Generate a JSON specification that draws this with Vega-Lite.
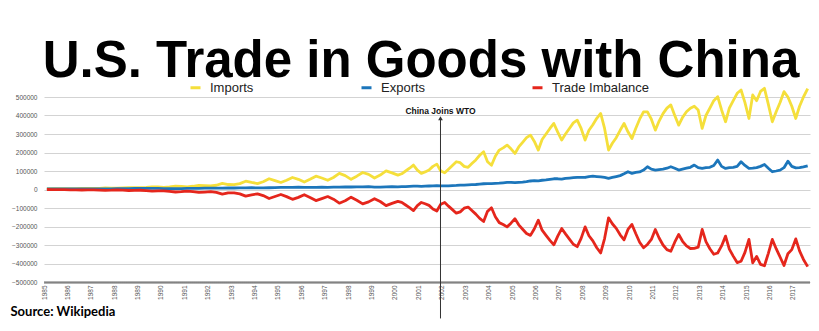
{
  "$schema": "https://vega.github.io/schema/vega-lite/v6.json",
  "width": 766,
  "height": 185,
  "autosize": {"type": "none"},
  "padding": {"left": 44, "top": 97, "right": 9, "bottom": 49},
  "background": "white",
  "title": {"text": "U.S. Trade in Goods with China", "font": "Liberation Sans", "fontSize": 51, "fontWeight": "bold", "color": "#000000", "anchor": "middle", "frame": "group", "baseline": "alphabetic", "offset": 4, "dx": -6, "dy": 51},
  "config": {"view": {"stroke": null}, "font": "Liberation Sans"},
  "encoding": {
    "x": {"field": "d", "type": "temporal",
      "scale": {"domain": [{"year": 1985, "month": 1, "date": 1}, {"year": 2017, "month": 9, "date": 25}]},
      "axis": {"title": "Source: Wikipedia", "titleFont": "Lato", "titleFontSize": 13, "titleFontWeight": "bold", "titleColor": "#000000", "titleAnchor": "start", "titleAlign": "left", "titleX": -34, "titleY": 33, "titleBaseline": "alphabetic",
        "format": "%Y", "labelAngle": -90, "labelFontSize": 6.5, "labelColor": "#555555", "labelPadding": 3, "ticks": false, "grid": false, "domainColor": "#333333", "domainWidth": 2.5, "domainDash": [1, 1], "tickCount": {"interval": "year", "step": 1}, "labelOverlap": false, "labelFlush": false}},
    "y": {"field": "value", "type": "quantitative",
      "scale": {"domain": [-500000, 500000], "nice": false},
      "axis": {"title": null, "values": [-500000, -400000, -300000, -200000, -100000, 0, 100000, 200000, 300000, 400000, 500000], "format": "d", "labelFontSize": 6.5, "labelColor": "#555555", "ticks": false, "domain": false, "labelPadding": 7, "gridColor": "#d3d3d3", "gridWidth": 1}}
  },
  "layer": [
    {
      "data": {"values": [
        {"d":"1985-02-15","Imports":3500,"Exports":3500,"Trade Imbalance":0},
        {"d":"1985-05-15","Imports":4000,"Exports":3500,"Trade Imbalance":-500},
        {"d":"1985-08-15","Imports":4500,"Exports":3800,"Trade Imbalance":-700},
        {"d":"1985-11-15","Imports":4500,"Exports":3500,"Trade Imbalance":-1000},
        {"d":"1986-02-15","Imports":4500,"Exports":2800,"Trade Imbalance":-1700},
        {"d":"1986-05-15","Imports":5000,"Exports":3000,"Trade Imbalance":-2000},
        {"d":"1986-08-15","Imports":6000,"Exports":3200,"Trade Imbalance":-2800},
        {"d":"1986-11-15","Imports":5500,"Exports":3300,"Trade Imbalance":-2200},
        {"d":"1987-02-15","Imports":5500,"Exports":3200,"Trade Imbalance":-2300},
        {"d":"1987-05-15","Imports":6500,"Exports":3400,"Trade Imbalance":-3100},
        {"d":"1987-08-15","Imports":8000,"Exports":3600,"Trade Imbalance":-4400},
        {"d":"1987-11-15","Imports":7500,"Exports":3600,"Trade Imbalance":-3900},
        {"d":"1988-02-15","Imports":7000,"Exports":4500,"Trade Imbalance":-2500},
        {"d":"1988-05-15","Imports":8500,"Exports":5000,"Trade Imbalance":-3500},
        {"d":"1988-08-15","Imports":10500,"Exports":5200,"Trade Imbalance":-5300},
        {"d":"1988-11-15","Imports":10000,"Exports":5500,"Trade Imbalance":-4500},
        {"d":"1989-02-15","Imports":9500,"Exports":5500,"Trade Imbalance":-4000},
        {"d":"1989-05-15","Imports":11500,"Exports":5800,"Trade Imbalance":-5700},
        {"d":"1989-08-15","Imports":14500,"Exports":5800,"Trade Imbalance":-8700},
        {"d":"1989-11-15","Imports":13500,"Exports":6000,"Trade Imbalance":-7500},
        {"d":"1990-02-15","Imports":12000,"Exports":4500,"Trade Imbalance":-7500},
        {"d":"1990-05-15","Imports":14500,"Exports":4800,"Trade Imbalance":-9700},
        {"d":"1990-08-15","Imports":18500,"Exports":5000,"Trade Imbalance":-13500},
        {"d":"1990-11-15","Imports":17000,"Exports":5200,"Trade Imbalance":-11800},
        {"d":"1991-02-15","Imports":14500,"Exports":5800,"Trade Imbalance":-8700},
        {"d":"1991-05-15","Imports":17500,"Exports":6000,"Trade Imbalance":-11500},
        {"d":"1991-08-15","Imports":22000,"Exports":6500,"Trade Imbalance":-15500},
        {"d":"1991-11-15","Imports":21000,"Exports":7000,"Trade Imbalance":-14000},
        {"d":"1992-02-15","Imports":19000,"Exports":7000,"Trade Imbalance":-12000},
        {"d":"1992-05-15","Imports":23000,"Exports":7200,"Trade Imbalance":-15800},
        {"d":"1992-08-15","Imports":33000,"Exports":7800,"Trade Imbalance":-25200},
        {"d":"1992-11-15","Imports":27000,"Exports":8500,"Trade Imbalance":-18500},
        {"d":"1993-02-15","Imports":26000,"Exports":8000,"Trade Imbalance":-18000},
        {"d":"1993-05-15","Imports":32000,"Exports":8500,"Trade Imbalance":-23500},
        {"d":"1993-08-15","Imports":45000,"Exports":9000,"Trade Imbalance":-36000},
        {"d":"1993-11-15","Imports":38000,"Exports":9500,"Trade Imbalance":-28500},
        {"d":"1994-02-15","Imports":32000,"Exports":8500,"Trade Imbalance":-23500},
        {"d":"1994-05-15","Imports":42000,"Exports":9000,"Trade Imbalance":-33000},
        {"d":"1994-08-15","Imports":58000,"Exports":9500,"Trade Imbalance":-48500},
        {"d":"1994-11-15","Imports":48000,"Exports":10000,"Trade Imbalance":-38000},
        {"d":"1995-02-15","Imports":38000,"Exports":11000,"Trade Imbalance":-27000},
        {"d":"1995-05-15","Imports":50000,"Exports":11500,"Trade Imbalance":-38500},
        {"d":"1995-08-15","Imports":65000,"Exports":12000,"Trade Imbalance":-53000},
        {"d":"1995-11-15","Imports":55000,"Exports":12500,"Trade Imbalance":-42500},
        {"d":"1996-02-15","Imports":40000,"Exports":11500,"Trade Imbalance":-28500},
        {"d":"1996-05-15","Imports":55000,"Exports":12000,"Trade Imbalance":-43000},
        {"d":"1996-08-15","Imports":72000,"Exports":12000,"Trade Imbalance":-60000},
        {"d":"1996-11-15","Imports":62000,"Exports":13000,"Trade Imbalance":-49000},
        {"d":"1997-02-15","Imports":50000,"Exports":12000,"Trade Imbalance":-38000},
        {"d":"1997-05-15","Imports":65000,"Exports":12500,"Trade Imbalance":-52500},
        {"d":"1997-08-15","Imports":87000,"Exports":13000,"Trade Imbalance":-74000},
        {"d":"1997-11-15","Imports":75000,"Exports":14000,"Trade Imbalance":-61000},
        {"d":"1998-02-15","Imports":55000,"Exports":13500,"Trade Imbalance":-41500},
        {"d":"1998-05-15","Imports":72000,"Exports":14000,"Trade Imbalance":-58000},
        {"d":"1998-08-15","Imports":92000,"Exports":14500,"Trade Imbalance":-77500},
        {"d":"1998-11-15","Imports":82000,"Exports":15000,"Trade Imbalance":-67000},
        {"d":"1999-02-15","Imports":62000,"Exports":12500,"Trade Imbalance":-49500},
        {"d":"1999-05-15","Imports":78000,"Exports":13000,"Trade Imbalance":-65000},
        {"d":"1999-08-15","Imports":101000,"Exports":14000,"Trade Imbalance":-87000},
        {"d":"1999-11-15","Imports":90000,"Exports":15000,"Trade Imbalance":-75000},
        {"d":"2000-02-15","Imports":78000,"Exports":14000,"Trade Imbalance":-64000},
        {"d":"2000-04-15","Imports":85000,"Exports":15000,"Trade Imbalance":-70000},
        {"d":"2000-06-15","Imports":100000,"Exports":16000,"Trade Imbalance":-84000},
        {"d":"2000-08-15","Imports":115000,"Exports":17000,"Trade Imbalance":-98000},
        {"d":"2000-10-15","Imports":132000,"Exports":18000,"Trade Imbalance":-114000},
        {"d":"2000-12-15","Imports":105000,"Exports":18000,"Trade Imbalance":-87000},
        {"d":"2001-02-15","Imports":87000,"Exports":17000,"Trade Imbalance":-70000},
        {"d":"2001-04-15","Imports":95000,"Exports":18000,"Trade Imbalance":-77000},
        {"d":"2001-06-15","Imports":105000,"Exports":19000,"Trade Imbalance":-86000},
        {"d":"2001-08-15","Imports":125000,"Exports":20000,"Trade Imbalance":-105000},
        {"d":"2001-10-15","Imports":137000,"Exports":21000,"Trade Imbalance":-116000},
        {"d":"2001-12-15","Imports":100000,"Exports":20000,"Trade Imbalance":-80000},
        {"d":"2002-02-15","Imports":90000,"Exports":20000,"Trade Imbalance":-70000},
        {"d":"2002-04-15","Imports":110000,"Exports":20000,"Trade Imbalance":-90000},
        {"d":"2002-06-15","Imports":130000,"Exports":21000,"Trade Imbalance":-109000},
        {"d":"2002-08-15","Imports":150000,"Exports":22000,"Trade Imbalance":-128000},
        {"d":"2002-10-15","Imports":145000,"Exports":24000,"Trade Imbalance":-121000},
        {"d":"2002-12-15","Imports":125000,"Exports":24000,"Trade Imbalance":-101000},
        {"d":"2003-02-15","Imports":120000,"Exports":25000,"Trade Imbalance":-95000},
        {"d":"2003-04-15","Imports":140000,"Exports":26000,"Trade Imbalance":-114000},
        {"d":"2003-06-15","Imports":160000,"Exports":27000,"Trade Imbalance":-133000},
        {"d":"2003-08-15","Imports":185000,"Exports":29000,"Trade Imbalance":-156000},
        {"d":"2003-10-15","Imports":204000,"Exports":31000,"Trade Imbalance":-173000},
        {"d":"2003-12-15","Imports":150000,"Exports":32000,"Trade Imbalance":-118000},
        {"d":"2004-02-15","Imports":131000,"Exports":32000,"Trade Imbalance":-99000},
        {"d":"2004-04-15","Imports":180000,"Exports":33000,"Trade Imbalance":-147000},
        {"d":"2004-06-15","Imports":213000,"Exports":34000,"Trade Imbalance":-179000},
        {"d":"2004-08-15","Imports":225000,"Exports":36000,"Trade Imbalance":-189000},
        {"d":"2004-10-15","Imports":240000,"Exports":38000,"Trade Imbalance":-202000},
        {"d":"2004-12-15","Imports":220000,"Exports":38000,"Trade Imbalance":-182000},
        {"d":"2005-02-15","Imports":195000,"Exports":37000,"Trade Imbalance":-158000},
        {"d":"2005-04-15","Imports":230000,"Exports":39000,"Trade Imbalance":-191000},
        {"d":"2005-06-15","Imports":255000,"Exports":40000,"Trade Imbalance":-215000},
        {"d":"2005-08-15","Imports":280000,"Exports":42000,"Trade Imbalance":-238000},
        {"d":"2005-10-15","Imports":294000,"Exports":46000,"Trade Imbalance":-248000},
        {"d":"2005-12-15","Imports":260000,"Exports":48000,"Trade Imbalance":-212000},
        {"d":"2006-02-15","Imports":213000,"Exports":47000,"Trade Imbalance":-166000},
        {"d":"2006-04-15","Imports":270000,"Exports":50000,"Trade Imbalance":-220000},
        {"d":"2006-06-15","Imports":300000,"Exports":52000,"Trade Imbalance":-248000},
        {"d":"2006-08-15","Imports":330000,"Exports":55000,"Trade Imbalance":-275000},
        {"d":"2006-10-15","Imports":357000,"Exports":58000,"Trade Imbalance":-299000},
        {"d":"2006-12-15","Imports":310000,"Exports":58000,"Trade Imbalance":-252000},
        {"d":"2007-02-15","Imports":267000,"Exports":56000,"Trade Imbalance":-211000},
        {"d":"2007-04-15","Imports":300000,"Exports":60000,"Trade Imbalance":-240000},
        {"d":"2007-06-15","Imports":330000,"Exports":62000,"Trade Imbalance":-268000},
        {"d":"2007-08-15","Imports":360000,"Exports":64000,"Trade Imbalance":-296000},
        {"d":"2007-10-15","Imports":375000,"Exports":66000,"Trade Imbalance":-309000},
        {"d":"2007-12-15","Imports":330000,"Exports":66000,"Trade Imbalance":-264000},
        {"d":"2008-02-15","Imports":267000,"Exports":65000,"Trade Imbalance":-202000},
        {"d":"2008-04-15","Imports":320000,"Exports":70000,"Trade Imbalance":-250000},
        {"d":"2008-06-15","Imports":350000,"Exports":72000,"Trade Imbalance":-278000},
        {"d":"2008-08-15","Imports":385000,"Exports":70000,"Trade Imbalance":-315000},
        {"d":"2008-10-15","Imports":411000,"Exports":68000,"Trade Imbalance":-343000},
        {"d":"2008-12-15","Imports":330000,"Exports":65000,"Trade Imbalance":-265000},
        {"d":"2009-02-15","Imports":213000,"Exports":60000,"Trade Imbalance":-153000},
        {"d":"2009-04-15","Imports":250000,"Exports":65000,"Trade Imbalance":-185000},
        {"d":"2009-06-15","Imports":280000,"Exports":70000,"Trade Imbalance":-210000},
        {"d":"2009-08-15","Imports":320000,"Exports":75000,"Trade Imbalance":-245000},
        {"d":"2009-10-15","Imports":357000,"Exports":85000,"Trade Imbalance":-272000},
        {"d":"2009-12-15","Imports":312000,"Exports":96000,"Trade Imbalance":-216000},
        {"d":"2010-02-15","Imports":276000,"Exports":87000,"Trade Imbalance":-189000},
        {"d":"2010-04-15","Imports":330000,"Exports":92000,"Trade Imbalance":-238000},
        {"d":"2010-06-15","Imports":380000,"Exports":95000,"Trade Imbalance":-285000},
        {"d":"2010-08-15","Imports":420000,"Exports":105000,"Trade Imbalance":-315000},
        {"d":"2010-10-15","Imports":420000,"Exports":123000,"Trade Imbalance":-297000},
        {"d":"2010-12-15","Imports":380000,"Exports":110000,"Trade Imbalance":-270000},
        {"d":"2011-02-15","Imports":321000,"Exports":105000,"Trade Imbalance":-216000},
        {"d":"2011-04-15","Imports":370000,"Exports":108000,"Trade Imbalance":-262000},
        {"d":"2011-06-15","Imports":410000,"Exports":110000,"Trade Imbalance":-300000},
        {"d":"2011-08-15","Imports":440000,"Exports":115000,"Trade Imbalance":-325000},
        {"d":"2011-10-15","Imports":457000,"Exports":123000,"Trade Imbalance":-334000},
        {"d":"2011-12-15","Imports":400000,"Exports":115000,"Trade Imbalance":-285000},
        {"d":"2012-02-15","Imports":348000,"Exports":105000,"Trade Imbalance":-243000},
        {"d":"2012-04-15","Imports":390000,"Exports":110000,"Trade Imbalance":-280000},
        {"d":"2012-06-15","Imports":420000,"Exports":115000,"Trade Imbalance":-305000},
        {"d":"2012-08-15","Imports":439000,"Exports":120000,"Trade Imbalance":-319000},
        {"d":"2012-10-15","Imports":450000,"Exports":132000,"Trade Imbalance":-318000},
        {"d":"2012-12-15","Imports":430000,"Exports":118000,"Trade Imbalance":-312000},
        {"d":"2013-02-15","Imports":330000,"Exports":114000,"Trade Imbalance":-216000},
        {"d":"2013-04-15","Imports":400000,"Exports":118000,"Trade Imbalance":-282000},
        {"d":"2013-06-15","Imports":440000,"Exports":120000,"Trade Imbalance":-320000},
        {"d":"2013-08-15","Imports":480000,"Exports":130000,"Trade Imbalance":-350000},
        {"d":"2013-10-15","Imports":502000,"Exports":159000,"Trade Imbalance":-343000},
        {"d":"2013-12-15","Imports":430000,"Exports":125000,"Trade Imbalance":-305000},
        {"d":"2014-02-15","Imports":366000,"Exports":114000,"Trade Imbalance":-252000},
        {"d":"2014-04-15","Imports":440000,"Exports":118000,"Trade Imbalance":-322000},
        {"d":"2014-06-15","Imports":480000,"Exports":120000,"Trade Imbalance":-360000},
        {"d":"2014-08-15","Imports":520000,"Exports":125000,"Trade Imbalance":-395000},
        {"d":"2014-10-15","Imports":538000,"Exports":150000,"Trade Imbalance":-388000},
        {"d":"2014-12-15","Imports":470000,"Exports":130000,"Trade Imbalance":-340000},
        {"d":"2015-02-15","Imports":384000,"Exports":114000,"Trade Imbalance":-270000},
        {"d":"2015-04-15","Imports":511000,"Exports":115000,"Trade Imbalance":-396000},
        {"d":"2015-06-15","Imports":480000,"Exports":118000,"Trade Imbalance":-362000},
        {"d":"2015-08-15","Imports":530000,"Exports":125000,"Trade Imbalance":-405000},
        {"d":"2015-10-15","Imports":547000,"Exports":135000,"Trade Imbalance":-412000},
        {"d":"2015-12-15","Imports":460000,"Exports":115000,"Trade Imbalance":-345000},
        {"d":"2016-02-15","Imports":366000,"Exports":96000,"Trade Imbalance":-270000},
        {"d":"2016-04-15","Imports":420000,"Exports":100000,"Trade Imbalance":-320000},
        {"d":"2016-06-15","Imports":470000,"Exports":105000,"Trade Imbalance":-365000},
        {"d":"2016-08-15","Imports":529000,"Exports":118000,"Trade Imbalance":-411000},
        {"d":"2016-10-15","Imports":500000,"Exports":153000,"Trade Imbalance":-347000},
        {"d":"2016-12-15","Imports":450000,"Exports":125000,"Trade Imbalance":-325000},
        {"d":"2017-02-15","Imports":384000,"Exports":117000,"Trade Imbalance":-267000},
        {"d":"2017-04-15","Imports":450000,"Exports":118000,"Trade Imbalance":-332000},
        {"d":"2017-06-15","Imports":500000,"Exports":122000,"Trade Imbalance":-378000},
        {"d":"2017-08-20","Imports":545000,"Exports":128000,"Trade Imbalance":-417000}
      ]},
      "transform": [{"fold": ["Imports", "Exports", "Trade Imbalance"], "as": ["series", "value"]}],
      "mark": {"type": "line", "strokeWidth": 2.8, "strokeJoin": "round"},
      "encoding": {
        "color": {"field": "series", "type": "nominal",
          "scale": {"domain": ["Imports", "Exports", "Trade Imbalance"], "range": ["#F5DF3B", "#1C76BB", "#E5261C"]},
          "legend": {"title": null, "orient": "none", "legendX": 145, "legendY": -16, "direction": "horizontal", "symbolType": "stroke", "symbolSize": 100, "symbolStrokeWidth": 3, "labelFontSize": 13, "labelFont": "Liberation Sans", "labelColor": "#222222", "columnPadding": 47, "gridAlign": "all", "labelOffset": 8, "padding": 0}}
      }
    },
    {
      "data": {"values": [{"d": "2001-12-11", "value": 385000, "v2": -697000, "label": "China Joins WTO"}]},
      "mark": {"type": "rule", "color": "#333333", "strokeWidth": 1},
      "encoding": {"y2": {"field": "v2"}}
    },
    {
      "data": {"values": [{"d": "2001-12-11", "value": 385000, "v2": -697000, "label": "China Joins WTO"}]},
      "mark": {"type": "point", "shape": "triangle-up", "filled": true, "size": 22, "color": "#333333", "opacity": 1}
    },
    {
      "data": {"values": [{"d": "2001-12-11", "value": 385000, "v2": -697000, "label": "China Joins WTO"}]},
      "mark": {"type": "text", "fontWeight": "bold", "fontSize": 8.5, "font": "Liberation Sans", "color": "#111111", "baseline": "alphabetic", "dy": -4},
      "encoding": {"text": {"field": "label"}}
    }
  ]
}
